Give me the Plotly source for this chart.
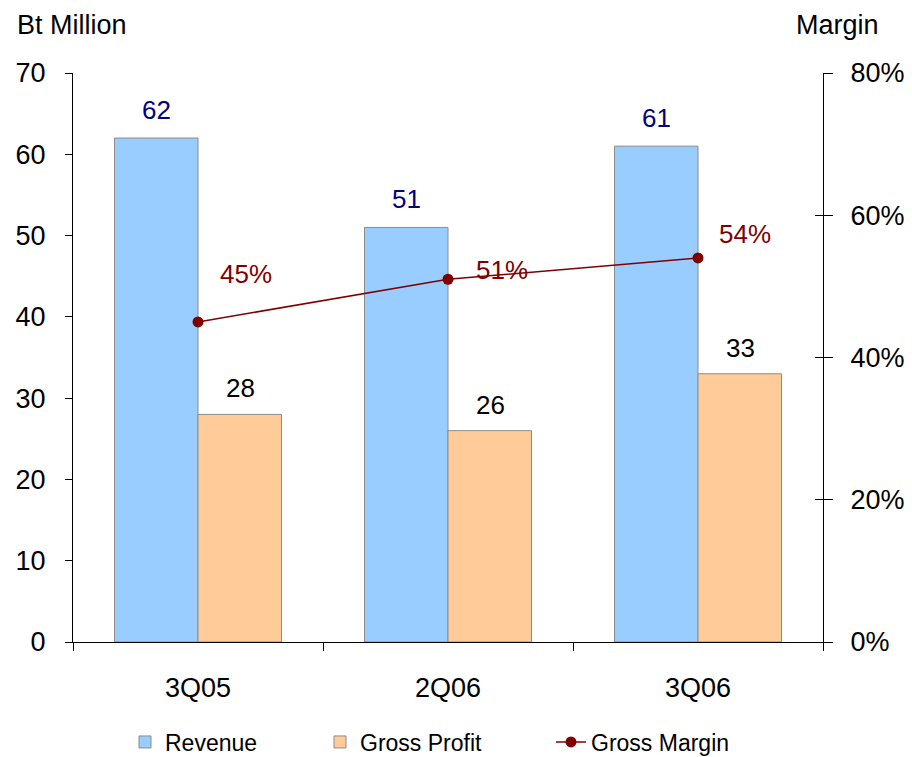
import plotly.graph_objects as go

# Quarterly figures (Bt Million) and gross margin
quarters = ["3Q05", "2Q06", "3Q06"]
revenue = [62, 51, 61]
gross_profit = [28, 26, 33]
gross_margin = [0.45, 0.51, 0.54]

FONT = "Arial, Liberation Sans, sans-serif"

# plot-area geometry in pixels
W, H = 912, 757
L, R, T, B = 73, 89, 73, 115
PW, PH = W - L - R, H - T - B

fig = go.Figure()

fig.add_trace(go.Bar(
    name="Revenue", x=quarters, y=revenue, legend="legend",
    marker=dict(color="#99CCFF", line=dict(color="#8C8C8C", width=1)),
))
fig.add_trace(go.Bar(
    name="Gross Profit", x=quarters, y=gross_profit, legend="legend2",
    marker=dict(color="#FFCC99", line=dict(color="#8C8C8C", width=1)),
))
fig.add_trace(go.Scatter(
    name="Gross Margin", x=quarters, y=gross_margin, yaxis="y2", legend="legend3",
    mode="lines+markers",
    line=dict(color="#800000", width=1.5),
    marker=dict(color="#800000", size=11),
))
# invisible trace carrying the inward half of the right-axis ticks
fig.add_trace(go.Scatter(x=quarters, y=gross_margin, yaxis="y3",
                         mode="none", showlegend=False, hoverinfo="skip"))

annotations = []
# value labels above the bars
for q, r, g in zip(quarters, revenue, gross_profit):
    annotations.append(dict(x=q, y=r, xref="x", yref="y", text=str(r),
                            showarrow=False, xshift=-42, yshift=28,
                            font=dict(family=FONT, size=26, color="#000080")))
    annotations.append(dict(x=q, y=g, xref="x", yref="y", text=str(g),
                            showarrow=False, xshift=42, yshift=26,
                            font=dict(family=FONT, size=26, color="#000000")))
# margin labels
margin_offsets = [(48, 48), (54, 9), (47, 24)]
for q, m, (dx, dy) in zip(quarters, gross_margin, margin_offsets):
    annotations.append(dict(x=q, y=m, xref="x", yref="y2", text=f"{m:.0%}",
                            showarrow=False, xshift=dx, yshift=dy,
                            font=dict(family=FONT, size=26, color="#800000")))
# axis captions
cap_font = dict(family=FONT, size=27, color="#000000")
annotations.append(dict(text="Bt Million", showarrow=False, xanchor="left", yanchor="middle",
                        xref="paper", yref="paper", x=(15 - L) / PW, y=1 + (T - 25) / PH,
                        font=cap_font))
annotations.append(dict(text="Margin", showarrow=False, xanchor="right", yanchor="middle",
                        xref="paper", yref="paper", x=(881 - L) / PW, y=1 + (T - 25) / PH,
                        font=cap_font))


def legend_at(px):
    return dict(orientation="h", x=(px - L) / PW, xanchor="left",
                y=-(742 - (H - B)) / PH, yanchor="middle",
                font=dict(family=FONT, size=23, color="#000000"),
                bgcolor="rgba(0,0,0,0)", borderwidth=0)


fig.update_layout(
    width=W, height=H,
    margin=dict(l=L, r=R, t=T, b=B, autoexpand=False),
    paper_bgcolor="white", plot_bgcolor="white",
    font=dict(family=FONT, size=27, color="#000000"),
    barmode="group", bargap=0.332, bargroupgap=0,
    showlegend=True,
    legend=legend_at(125),
    legend2=legend_at(320),
    legend3=legend_at(551),
    xaxis=dict(
        type="category", tickson="boundaries", ticks="outside", ticklen=8,
        tickcolor="#000", showline=True, linecolor="#000", linewidth=1,
        ticklabelstandoff=22, showgrid=False, zeroline=False,
    ),
    yaxis=dict(
        range=[0, 70], dtick=10, ticks="outside", ticklen=7, tickcolor="#000",
        showline=True, linecolor="#000", linewidth=1, showgrid=False,
        zeroline=False, ticklabelstandoff=14,
    ),
    yaxis2=dict(
        range=[0, 0.8], dtick=0.2, tickformat=".0%", overlaying="y", side="right",
        ticks="outside", ticklen=9, tickcolor="#000", showline=True,
        linecolor="#000", linewidth=1, showgrid=False, zeroline=False,
        ticklabelstandoff=12,
    ),
    yaxis3=dict(
        range=[0, 0.8], dtick=0.2, overlaying="y", side="right",
        ticks="inside", ticklen=8, tickcolor="#000", showticklabels=False,
        showline=False, showgrid=False, zeroline=False,
    ),
    annotations=annotations,
)

fig.write_html("out.html")
